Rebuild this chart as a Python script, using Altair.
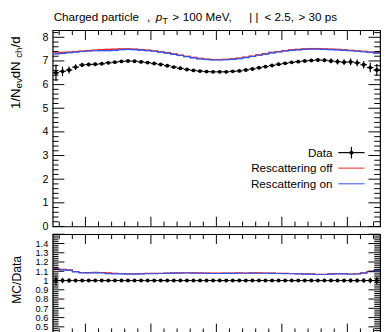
import altair as alt
import pandas as pd

FONT = "Liberation Sans"

# ---------------- data ----------------
bin_edges = [round(-2.5 + 0.1 * i, 1) for i in range(51)]

data_y = [6.50, 6.56, 6.62, 6.74, 6.83, 6.85, 6.86, 6.88, 6.92, 6.95,
          6.98, 7.00, 6.99, 6.96, 6.93, 6.89, 6.85, 6.80, 6.74, 6.69,
          6.64, 6.60, 6.57, 6.55, 6.54, 6.54, 6.54, 6.56, 6.58, 6.62,
          6.66, 6.71, 6.76, 6.81, 6.86, 6.90, 6.94, 6.97, 7.00, 7.02,
          7.04, 7.03, 7.00, 6.97, 6.95, 6.96, 6.92, 6.84, 6.72, 6.62]

data_err = [0.35, 0.20, 0.15, 0.12, 0.09, 0.07, 0.06, 0.05, 0.05, 0.05,
            0.04, 0.04, 0.04, 0.04, 0.04, 0.03, 0.03, 0.03, 0.03, 0.03,
            0.03, 0.03, 0.03, 0.03, 0.03, 0.03, 0.03, 0.03, 0.03, 0.03,
            0.03, 0.03, 0.03, 0.03, 0.04, 0.04, 0.04, 0.05, 0.05, 0.06,
            0.07, 0.08, 0.10, 0.12, 0.12, 0.14, 0.14, 0.16, 0.20, 0.25]

off_y = [7.34, 7.36, 7.38, 7.40, 7.42, 7.44, 7.46, 7.48, 7.49, 7.50,
         7.51, 7.51, 7.50, 7.48, 7.46, 7.43, 7.39, 7.35, 7.30, 7.25,
         7.20, 7.15, 7.11, 7.08, 7.06, 7.06, 7.07, 7.09, 7.12, 7.16,
         7.21, 7.26, 7.31, 7.36, 7.40, 7.44, 7.47, 7.49, 7.51, 7.52,
         7.52, 7.51, 7.50, 7.49, 7.47, 7.45, 7.43, 7.41, 7.38, 7.35]

on_y = [7.30, 7.32, 7.35, 7.37, 7.40, 7.42, 7.43, 7.44, 7.44, 7.45,
        7.48, 7.49, 7.48, 7.46, 7.44, 7.41, 7.37, 7.33, 7.28, 7.23,
        7.18, 7.13, 7.09, 7.06, 7.04, 7.04, 7.05, 7.07, 7.10, 7.14,
        7.19, 7.24, 7.29, 7.34, 7.38, 7.42, 7.45, 7.47, 7.49, 7.50,
        7.50, 7.49, 7.48, 7.47, 7.45, 7.43, 7.41, 7.39, 7.36, 7.33]

mc_err = 0.035

RED, RED_BAND = "#ee2a24", "#f6a3a0"
BLUE, BLUE_BAND = "#2f55ee", "#a3b5f6"

X_MIN, X_MAX = -2.5, 2.5
Y_MAIN = [0, 8.3]
Y_RATIO = [0.43, 1.5]
W, H_MAIN, H_RATIO = 337, 202, 102

# ---------------- frames ----------------
df = pd.DataFrame({"lo": bin_edges[:-1], "hi": bin_edges[1:],
                   "d": data_y, "e": data_err, "off": off_y, "on": on_y})
df["c"] = (df.lo + df.hi) / 2
df["dlo"] = df.d - df.e
df["dhi"] = df.d + df.e
for s in ["off", "on"]:
    df[s + "_lo"] = df[s] - mc_err
    df[s + "_hi"] = df[s] + mc_err
    df["r_" + s] = df[s] / df.d
    df["r_" + s + "_lo"] = (df[s] - mc_err) / df.d
    df["r_" + s + "_hi"] = (df[s] + mc_err) / df.d
df["one"] = 1.0
df["r_dlo"] = 1 - df.e / df.d
df["r_dhi"] = 1 + df.e / df.d


def step_frame(col):
    xs = list(df.lo) + [X_MAX]
    ys = list(df[col]) + [df[col].iloc[-1]]
    return pd.DataFrame({"x": xs, "y": ys})


def tick_frame(ymin, ymax, y_major, y_minor, y_major_len, y_minor_len,
               x_major_len, x_minor_len):
    rows = []
    for v in [-2, -1, 0, 1, 2]:
        rows.append((v, ymin, v, ymin + x_major_len))
        rows.append((v, ymax, v, ymax - x_major_len))
    for k in range(-24, 25, 2):
        if k % 10 == 0:
            continue
        v = k / 10
        rows.append((v, ymin, v, ymin + x_minor_len))
        rows.append((v, ymax, v, ymax - x_minor_len))
    for v in y_major:
        rows.append((X_MIN, v, X_MIN + y_major_len, v))
        rows.append((X_MAX, v, X_MAX - y_major_len, v))
    for v in y_minor:
        rows.append((X_MIN, v, X_MIN + y_minor_len, v))
        rows.append((X_MAX, v, X_MAX - y_minor_len, v))
    return pd.DataFrame(rows, columns=["x", "y", "x2", "y2"])


xs = alt.Scale(domain=[X_MIN, X_MAX], nice=False, zero=False)
ys_main = alt.Scale(domain=Y_MAIN, nice=False, zero=False)
ys_ratio = alt.Scale(domain=Y_RATIO, nice=False, zero=False)

ax_main = alt.Axis(values=list(range(9)), format="d", title=None, ticks=False,
                   tickSize=0, domain=False, grid=False, labelFont=FONT,
                   labelFontSize=11, labelColor="black", labelPadding=5,
                   labelOverlap=False)
ratio_labels = [0.5, 0.6, 0.7, 0.8, 0.9, 1.0, 1.1, 1.2, 1.3, 1.4]
ax_ratio = alt.Axis(values=ratio_labels, format=".1~f", title=None, ticks=False,
                    tickSize=0, domain=False, grid=False, labelFont=FONT,
                    labelFontSize=9.5, labelColor="black", labelPadding=5,
                    labelOverlap=False)


def X(f):
    return alt.X(f, type="quantitative", scale=xs, axis=None)


def layers_for(ys, ax, lo_off, hi_off, lo_on, hi_on, v_off, v_on,
               dcol, dlo, dhi):
    Y = lambda f: alt.Y(f, type="quantitative", scale=ys, axis=ax)
    base = alt.Chart(df)
    band_off = base.mark_rect(color=RED_BAND, opacity=0.6).encode(
        x=X("lo"), x2="hi", y=Y(lo_off), y2=hi_off)
    band_on = base.mark_rect(color=BLUE_BAND, opacity=0.6).encode(
        x=X("lo"), x2="hi", y=Y(lo_on), y2=hi_on)
    line_off = alt.Chart(step_frame(v_off)).mark_line(
        color=RED, strokeWidth=1.2, interpolate="step-after").encode(
        x=X("x"), y=Y("y"))
    line_on = alt.Chart(step_frame(v_on)).mark_line(
        color=BLUE, strokeWidth=1.2, interpolate="step-after").encode(
        x=X("x"), y=Y("y"))
    d_h = base.mark_rule(color="black", strokeWidth=1.2).encode(
        x=X("lo"), x2="hi", y=Y(dcol))
    d_v = base.mark_rule(color="black", strokeWidth=1.2).encode(
        x=X("c"), y=Y(dlo), y2=dhi)
    d_p = base.mark_point(filled=True, color="black", opacity=1, size=16,
                          shape="circle").encode(x=X("c"), y=Y(dcol))
    return [band_off, band_on, line_off, line_on, d_h, d_v, d_p], Y


# ---------------- main pad ----------------
main_layers, Ym = layers_for(ys_main, ax_main, "off_lo", "off_hi", "on_lo",
                             "on_hi", "off", "on", "d", "dlo", "dhi")

px_y_main = H_MAIN / (Y_MAIN[1] - Y_MAIN[0])
px_x = W / (X_MAX - X_MIN)
tk_main = tick_frame(Y_MAIN[0], Y_MAIN[1], list(range(9)),
                     [round(0.2 * i, 1) for i in range(42) if i % 5 != 0],
                     12 / px_x, 6 / px_x, 10 / px_y_main, 5 / px_y_main)
ticks_main = alt.Chart(tk_main).mark_rule(color="black", strokeWidth=1).encode(
    x=X("x"), x2="x2", y=Ym("y"), y2="y2")


def txt(s, x, y, size=12, align="left", baseline="alphabetic", angle=0,
        style="normal"):
    kw = dict(align=align, baseline=baseline, font=FONT, fontSize=size,
              color="black", fontStyle=style)
    if angle:
        kw["angle"] = angle
    return alt.Chart(df.head(1)).mark_text(**kw).encode(
        x=alt.value(x), y=alt.value(y), text=alt.value(s))


title_parts = [
    txt("Charged particle", 1, -9),
    txt(",", 97, -9),
    txt("p", 106, -9, style="italic"),
    txt("T", 113, -6, size=9),
    txt(">", 123, -9),
    txt("100  MeV,", 134, -9),
    txt("|  |", 202, -9, style="italic"),
    txt("< 2.5,", 218, -9),
    txt("> 30 ps", 253, -9),
]

ytitle_parts = [
    txt("1/N", -34, 81, size=13.5, angle=270),
    txt("ev", -31.5, 60, size=10, angle=270),
    txt(" dN", -34, 49.4, size=13.5, angle=270),
    txt("ch", -31.5, 28.4, size=10, angle=270),
    txt(" /d", -34, 17.8, size=13.5, angle=270),
]

# legend (positions inside the plot frame)
LX0, LX1, LXM = 294, 321, 307.5
leg = [
    txt("Data", 288, 126, align="right", baseline="middle"),
    txt("Rescattering off", 288, 142, align="right", baseline="middle"),
    txt("Rescattering on", 288, 158, align="right", baseline="middle"),
    alt.Chart(df.head(1)).mark_rule(color="black", strokeWidth=1.2).encode(
        x=alt.value(LX0), x2=alt.value(LX1), y=alt.value(126)),
    alt.Chart(df.head(1)).mark_rule(color="black", strokeWidth=1.2).encode(
        x=alt.value(LXM), y=alt.value(120), y2=alt.value(132)),
    alt.Chart(df.head(1)).mark_point(filled=True, color="black", opacity=1,
                                     size=16).encode(
        x=alt.value(LXM), y=alt.value(126)),
    alt.Chart(df.head(1)).mark_rule(color=RED, strokeWidth=1.5, opacity=0.7).encode(
        x=alt.value(LX0), x2=alt.value(LX1), y=alt.value(142)),
    alt.Chart(df.head(1)).mark_rule(color=BLUE, strokeWidth=1.5, opacity=0.7).encode(
        x=alt.value(LX0), x2=alt.value(LX1), y=alt.value(158)),
]

top = alt.layer(*main_layers, ticks_main, *title_parts, *ytitle_parts,
                *leg).properties(width=W, height=H_MAIN)

# ---------------- ratio pad ----------------
ratio_layers, Yr = layers_for(ys_ratio, ax_ratio, "r_off_lo", "r_off_hi",
                              "r_on_lo", "r_on_hi", "r_off", "r_on", "one",
                              "r_dlo", "r_dhi")
px_y_ratio = H_RATIO / (Y_RATIO[1] - Y_RATIO[0])
tk_ratio = tick_frame(Y_RATIO[0], Y_RATIO[1],
                      [round(0.5 + 0.1 * i, 1) for i in range(11)],
                      [round(0.44 + 0.02 * i, 2) for i in range(54)
                       if round((0.44 + 0.02 * i) * 100) % 10 != 0],
                      12 / px_x, 6 / px_x, 10 / px_y_ratio, 5 / px_y_ratio)
ticks_ratio = alt.Chart(tk_ratio).mark_rule(color="black", strokeWidth=1).encode(
    x=X("x"), x2="x2", y=Yr("y"), y2="y2")

bottom = alt.layer(*ratio_layers, ticks_ratio,
                   txt("MC/Data", -33, 47, size=12.5, angle=270,
                       align="center")).properties(width=W, height=H_RATIO)

chart = alt.vconcat(top, bottom, spacing=0).properties(
    padding={"left": 0, "top": -2, "right": 0, "bottom": 0}
).configure_view(stroke="black", strokeWidth=1.2)

chart.save("out.html", embed_options={"renderer": "svg", "actions": False})
